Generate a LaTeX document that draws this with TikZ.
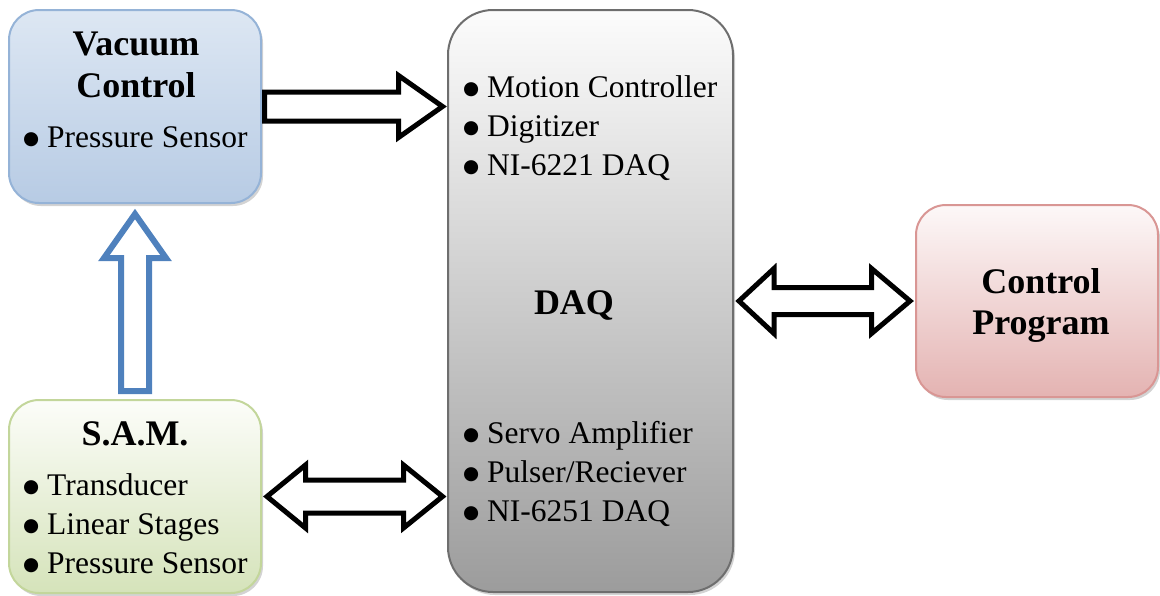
\documentclass[tikz,border=0pt]{standalone}
\usepackage{fontspec}
\setmainfont{Liberation Serif}
\newfontfamily\symfont{DejaVu Sans}
\usetikzlibrary{calc,shadows}
\definecolor{vacB}{HTML}{95B3D7}
\definecolor{vacT}{HTML}{DDE7F3}
\definecolor{vacBot}{HTML}{B7CBE4}
\definecolor{samB}{HTML}{C3D69B}
\definecolor{samT}{HTML}{FCFDF9}
\definecolor{samBot}{HTML}{D5E3BA}
\definecolor{daqB}{HTML}{6E6E6E}
\definecolor{daqT}{HTML}{FCFCFC}
\definecolor{daqBot}{HTML}{9C9C9C}
\definecolor{cpB}{HTML}{D99694}
\definecolor{cpT}{HTML}{FDF8F8}
\definecolor{cpBot}{HTML}{E4B3B2}
\definecolor{arrBlue}{HTML}{4F81BD}
\newcommand{\bul}{\makebox[24pt][l]{\raisebox{3pt}{\symfont\fontsize{18.5}{18.5}\selectfont ●}}}
\begin{document}
\begin{tikzpicture}[x=1pt,y=-1pt,
  box/.style={rectangle, inner sep=0pt, line width=2pt,
    drop shadow={shadow xshift=2pt, shadow yshift=-3pt, opacity=0.35, fill=gray}},
  title/.style={anchor=base, inner sep=0pt, font=\fontsize{36}{41}\selectfont\bfseries},
  item/.style={anchor=base west, inner sep=0pt, font=\fontsize{31.5}{39}\selectfont},
  blk/.style={draw=black, fill=white, line width=5pt, line join=miter},
  blkblue/.style={draw=arrBlue, fill=white, line width=6pt, line join=miter}]
\useasboundingbox (0,0) rectangle (1160,595);

% boxes
\node[box, draw=vacB, top color=vacT, bottom color=vacBot, rounded corners=30pt,
  minimum width=252pt, minimum height=193pt] (vac) at (135,106.5) {};
\node[box, draw=samB, top color=samT, bottom color=samBot, rounded corners=30pt,
  minimum width=252pt, minimum height=193pt] (sam) at (135,496.5) {};
\node[box, draw=daqB, top color=daqT, bottom color=daqBot, rounded corners=45pt,
  minimum width=285pt, minimum height=582pt] (daq) at (590.5,301) {};
\node[box, draw=cpB, top color=cpT, bottom color=cpBot, rounded corners=30pt,
  minimum width=242pt, minimum height=192pt] (cp) at (1037,301) {};

% texts
\node[title] (vt1) at (136,55) {Vacuum};
\node[title] (vt2) at (136,97) {Control};
\node[item] (vi1) at (23,147) {\bul Pressure Sensor};

\node[title] (st) at (135,445) {S.A.M.};
\node[item] (si1) at (23,495) {\bul Transducer};
\node[item] (si2) at (23,534) {\bul Linear Stages};
\node[item] (si3) at (23,573) {\bul Pressure Sensor};

\node[item] (di1) at (463,97) {\bul Motion Controller};
\node[item] (di2) at (463,136) {\bul Digitizer};
\node[item] (di3) at (463,175) {\bul NI-6221 DAQ};
\node[title] (dt) at (574,314) {DAQ};
\node[item] (di4) at (463,443) {\bul Servo Amplifier};
\node[item] (di5) at (463,482) {\bul Pulser/Reciever};
\node[item] (di6) at (463,521) {\bul NI-6251 DAQ};

\node[title] (ct1) at (1041,293) {Control};
\node[title] (ct2) at (1041,334) {Program};

% arrow vacuum -> DAQ
\coordinate (a1s) at (vac.east);
\coordinate (a1t) at (daq.west |- vac.east);
\draw[blk] ($(a1s)+(2.5,-14.5)$) -- ($(a1t)+(-48.5,-14.5)$) -- ($(a1t)+(-48.5,-31)$)
  -- ($(a1t)+(-4.5,0)$) -- ($(a1t)+(-48.5,31)$) -- ($(a1t)+(-48.5,14.5)$)
  -- ($(a1s)+(2.5,14.5)$) -- cycle;

% double arrow SAM <-> DAQ
\coordinate (a2s) at (sam.east);
\coordinate (a2t) at (daq.west |- sam.east);
\draw[blk] ($(a2s)+(5,0)$) -- ($(a2s)+(43.5,-31.5)$) -- ($(a2s)+(43.5,-16.5)$)
  -- ($(a2t)+(-43.5,-16.5)$) -- ($(a2t)+(-43.5,-31.5)$) -- ($(a2t)+(-4.5,0)$)
  -- ($(a2t)+(-43.5,31.5)$) -- ($(a2t)+(-43.5,16.5)$) -- ($(a2s)+(43.5,16.5)$)
  -- ($(a2s)+(43.5,31.5)$) -- cycle;

% double arrow DAQ <-> Control Program
\coordinate (a3s) at (daq.east |- cp.west);
\coordinate (a3t) at (cp.west);
\draw[blk] ($(a3s)+(5,0)$) -- ($(a3s)+(40,-32.5)$) -- ($(a3s)+(40,-13.5)$)
  -- ($(a3t)+(-43.5,-13.5)$) -- ($(a3t)+(-43.5,-32.5)$) -- ($(a3t)+(-5,0)$)
  -- ($(a3t)+(-43.5,32.5)$) -- ($(a3t)+(-43.5,13.5)$) -- ($(a3s)+(40,13.5)$)
  -- ($(a3s)+(40,32.5)$) -- cycle;

% blue arrow SAM -> Vacuum
\coordinate (a4s) at (sam.north);
\coordinate (a4t) at (vac.south);
\draw[blkblue] ($(a4s)+(-14,-8)$) -- ($(a4t)+(-14,54)$) -- ($(a4t)+(-31,54)$)
  -- ($(a4t)+(0,10)$) -- ($(a4t)+(31,54)$) -- ($(a4t)+(14,54)$)
  -- ($(a4s)+(14,-8)$) -- cycle;
\end{tikzpicture}
\end{document}
